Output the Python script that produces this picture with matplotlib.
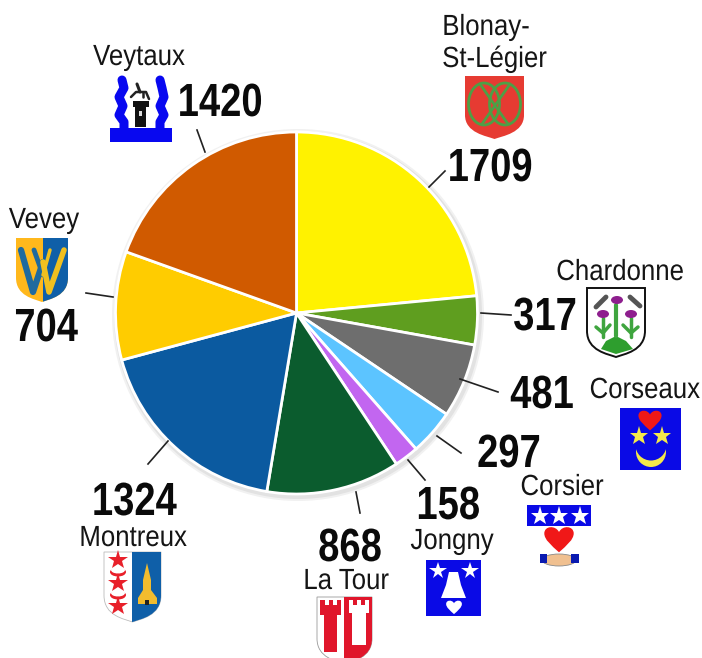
import matplotlib
matplotlib.use("Agg")
import matplotlib.pyplot as plt
from matplotlib.patches import Circle, PathPatch, Polygon, Rectangle, Ellipse
from matplotlib.path import Path
from matplotlib.patheffects import AbstractPathEffect
from matplotlib.transforms import Affine2D

communes = ["Blonay-St-Légier", "Chardonne", "Corseaux", "Corsier", "Jongny",
            "La Tour", "Montreux", "Vevey", "Veytaux"]
values = [1709, 317, 481, 297, 158, 868, 1324, 704, 1420]
colors = ["#FFF200", "#5F9E1F", "#6E6E6E", "#5CC4FF", "#C266F0",
          "#0B5C2E", "#0B5AA0", "#FFCC00", "#D05A00"]
name_labels = ["Veytaux", "Blonay-", "St-Légier", "Vevey", "Chardonne",
               "Corseaux", "Corsier", "Jongny", "Montreux", "La Tour"]

W, H = 702, 658
fig = plt.figure(figsize=(W / 100, H / 100), dpi=100, facecolor="white")
ax = fig.add_axes([0, 0, 1, 1])
ax.set_xlim(0, W)
ax.set_ylim(0, H)
ax.set_aspect("equal")
ax.axis("off")


def Y(y):
    return H - y


class Narrow(AbstractPathEffect):
    """Squeeze a text horizontally about its left edge, centre or right edge."""

    def __init__(self, sx, anchor="center"):
        super().__init__()
        self.sx, self.anchor = sx, anchor

    def draw_path(self, renderer, gc, tpath, affine, rgbFace=None):
        box = tpath.get_extents(affine)
        cx = {"left": box.x0, "right": box.x1}.get(self.anchor, (box.x0 + box.x1) / 2)
        new = affine + Affine2D().translate(-cx, 0).scale(self.sx, 1).translate(cx, 0)
        renderer.draw_path(gc, tpath, new, rgbFace)


FONT = "Liberation Sans"
BLUE = "#0A0AE6"

# soft shadow behind the pie
for r, c in [(186, "#F1F1F1"), (184, "#E2E2E2")]:
    ax.add_patch(Circle((298, Y(315)), r, fc=c, ec="none", zorder=1))

ax.pie(values, colors=colors, startangle=90, counterclock=False,
       center=(296.5, Y(313)), radius=181, frame=False,
       wedgeprops=dict(edgecolor="white", linewidth=2.0, zorder=2))
ax.set_xlim(0, W)
ax.set_ylim(0, H)
ax.axis("off")

# leader lines
leaders = [((197, 130), (205, 152)), ((86, 293), (113, 297)), ((445, 171), (429, 187)),
           ((481, 313), (511, 315)), ((460, 379), (498, 392)), ((437, 436), (461, 453)),
           ((408, 460), (425, 480)), ((356, 492), (360, 513)), ((168, 441), (148, 464))]
for (x0, y0), (x1, y1) in leaders:
    ax.plot([x0, x1], [Y(y0), Y(y1)], color="#222222", lw=1.2, zorder=3)

# value labels
num_pos = {1420: (220, 104), 1709: (490, 169), 704: (46, 329), 317: (545, 318),
           481: (542, 396), 297: (509, 455), 158: (448, 507), 868: (350, 549), 1324: (134, 503)}
for v in values:
    x, y = num_pos[v]
    ax.text(x, Y(y), str(v), family=FONT, weight="bold", fontsize=33.5,
            ha="center", va="center", color="#0A0A0A", zorder=8,
            path_effects=[Narrow(0.82)])

# commune labels
name_pos = [(139, 57, "center"), (442, 27, "left"), (442, 59, "left"), (44, 220, "center"),
            (620, 272, "center"), (700, 390, "right"), (562, 487, "center"),
            (452, 541, "center"), (133, 538, "center"), (346, 581, "center")]
for s, (x, y, ha) in zip(name_labels, name_pos):
    ax.text(x, Y(y), s, family=FONT, fontsize=21, ha=ha, va="center",
            color="#151515", zorder=8, path_effects=[Narrow(0.885, ha)])


def shield_path(x0, x1, y0, y1):
    m = (x0 + x1) / 2
    s = y0 + (y1 - y0) * 0.62
    verts = [(x0, y0), (x1, y0), (x1, s), (x1, y1 - 6), (m + 8, y1 - 3), (m, y1),
             (m - 8, y1 - 3), (x0, y1 - 6), (x0, s), (x0, y0)]
    codes = [Path.MOVETO, Path.LINETO, Path.LINETO, Path.CURVE4, Path.CURVE4, Path.CURVE4,
             Path.CURVE4, Path.CURVE4, Path.CURVE4, Path.CLOSEPOLY]
    return Path([(a, Y(b)) for a, b in verts], codes)


def shield(x0, x1, y0, y1, fc, ec="none", lw=0):
    ax.add_patch(PathPatch(shield_path(x0, x1, y0, y1), fc=fc, ec=ec, lw=lw, zorder=4))


def half_shield(x0, x1, y0, y1, fc, xa, xb):
    p = PathPatch(shield_path(x0, x1, y0, y1), fc=fc, ec="none", zorder=4)
    ax.add_patch(p)
    p.set_clip_path(Rectangle((xa, 0), xb - xa, H, transform=ax.transData))


def heart(cx, cy, s, fc):
    pts = [(0, .95), (-.55, .45), (-1.05, .05), (-1.05, -.4), (-1.05, -.95), (-.25, -1.0), (0, -.5),
           (.25, -1.0), (1.05, -.95), (1.05, -.4), (1.05, .05), (.55, .45), (0, .95)]
    codes = [Path.MOVETO] + [Path.CURVE4] * 12
    ax.add_patch(PathPatch(Path([(cx + a * s, Y(cy + b * s)) for a, b in pts], codes),
                           fc=fc, ec="none", zorder=7))


def star(x, y, size, c):
    ax.plot([x], [Y(y)], marker="*", ms=size, mfc=c, mec=c, mew=0, zorder=7)


def rect(x0, y0, x1, y1, c, z=4):
    ax.add_patch(Rectangle((x0, Y(y1)), x1 - x0, y1 - y0, fc=c, ec="none", zorder=z))


def poly(pts, c, z=5):
    ax.add_patch(Polygon([(a, Y(b)) for a, b in pts], closed=True, fc=c, ec="none", zorder=z))


def line(pts, c, lw, z=5):
    ax.plot([p[0] for p in pts], [Y(p[1]) for p in pts], color=c, lw=lw, zorder=z,
            solid_capstyle="round", solid_joinstyle="round")


# Veytaux
rect(110, 128, 172, 142, "#0808F0")
line([(122, 80), (124, 88), (119, 97), (123, 106), (119, 115), (124, 122), (124, 129)], "#0808F0", 6.5)
line([(160, 80), (162, 88), (164, 97), (160, 106), (164, 115), (160, 122), (160, 129)], "#0808F0", 6.5)
rect(135, 107, 146, 127, "#111111", 5)
rect(133, 101, 149, 107, "#111111", 5)
line([(131, 97), (136, 92), (146, 92), (149, 99)], "#222222", 1.8)
line([(137, 84), (140, 92)], "#222222", 2.2)
line([(143, 92), (143, 97)], "#222222", 1.8)
rect(139, 111, 142, 116, "#DDDDDD", 6)

# Blonay-St-Légier
shield(465, 524, 76, 139, "#E63B32")
for cx in (484, 505):
    ax.add_patch(Ellipse((cx, Y(104)), 31, 42, fc="none", ec="#4E9F46", lw=2, zorder=5))
line([(480, 84), (508, 124)], "#4E9F46", 2)
line([(510, 84), (482, 124)], "#4E9F46", 2)

# Vevey
shield(16, 68, 238, 302, "#FFB81C")
half_shield(16, 68, 238, 302, "#0F5FA8", 43, 70)
rect(16, 238, 43, 247, "#FFB81C", 4.5)
line([(21, 250), (33, 292), (43, 262)], "#1F6A9E", 4.5)
line([(34, 250), (43, 275)], "#1F6A9E", 3.5)
line([(43, 262), (49, 292), (64, 250)], "#F0C020", 4)
line([(43, 275), (50, 250)], "#F0C020", 2.5)

# Chardonne
shield(587, 645, 288, 357, "white", "#111111", 1.4)
poly([(601, 349), (606, 341), (616, 336), (626, 341), (633, 349), (616, 354)], "#2E9E2E")
line([(616, 336), (616, 305)], "#3FA53F", 3)
line([(603, 337), (603, 318)], "#3FA53F", 2.5)
line([(631, 337), (631, 318)], "#3FA53F", 2.5)
line([(596, 327), (603, 333), (610, 325)], "#3FA53F", 2.5)
line([(623, 325), (631, 333), (638, 327)], "#3FA53F", 2.5)
for x, y in [(617, 300), (603, 314), (631, 314)]:
    ax.add_patch(Ellipse((x, Y(y)), 12, 8, fc="#8E1F8E", ec="none", zorder=6))
line([(596, 307), (606, 297)], "#555555", 3.5)
line([(630, 297), (640, 306)], "#555555", 3.5)

# Corseaux
rect(620, 408, 681, 470, BLUE)
heart(650, 420, 11, "#F01818")
star(639, 436, 14, "#F4E94A")
star(662, 436, 14, "#F4E94A")
ax.add_patch(Circle((651, Y(452)), 15, fc="#F4E94A", ec="none", zorder=5))
ax.add_patch(Circle((651, Y(445)), 15.5, fc=BLUE, ec="none", zorder=5.5))

# Corsier
rect(527, 505, 591, 526, BLUE)
for x in (540, 559, 580):
    star(x, 516, 14, "white")
heart(559, 539, 14, "#F01818")
ax.add_patch(Ellipse((559, Y(560)), 34, 12, fc="#F0C090", ec="#888888", lw=0.6, zorder=5))
rect(540, 554, 547, 563, "#0A1AB0", 5)
rect(571, 554, 579, 563, "#0A1AB0", 5)

# Jongny
rect(426, 560, 481, 616, BLUE)
star(438, 571, 13, "white")
star(470, 571, 13, "white")
poly([(449, 572), (458, 572), (461, 585), (466, 598), (441, 598), (446, 585)], "white")
heart(454, 607, 7.5, "white")

# Montreux
shield(104, 161, 552, 622, "white", "#BBBBBB", 0.6)
half_shield(104, 161, 552, 622, "#0F5FA8", 132, 165)
for y in (560, 583, 606):
    star(118, y, 15, "#E8202A")
for y in (572, 595):
    ax.add_patch(Ellipse((118, Y(y)), 16, 9, fc="#E8202A", ec="none", zorder=5))
    ax.add_patch(Ellipse((118, Y(y - 2)), 14, 7, fc="white", ec="none", zorder=5.5))
poly([(147, 563), (151, 580), (151, 590), (157, 598), (157, 604), (138, 604),
      (138, 598), (143, 590), (143, 580)], "#F2BC2E")
rect(145, 600, 149, 605, "#222222", 5.5)

# La Tour
shield(317, 372, 597, 664, "white", "#999999", 0.6)
half_shield(317, 372, 597, 664, "#E0162B", 344, 376)
poly([(320, 600), (325, 600), (325, 605), (329, 605), (329, 600), (333, 600), (333, 605),
      (337, 605), (337, 600), (341, 600), (341, 615), (337, 615), (337, 652),
      (324, 652), (324, 615), (320, 615)], "#E0162B")
poly([(349, 600), (353, 600), (353, 605), (357, 605), (357, 600), (361, 600), (361, 605),
      (365, 605), (365, 600), (369, 600), (369, 613), (366, 613), (366, 645),
      (352, 645), (352, 613), (349, 613)], "white")

fig.savefig("out.png", dpi=100, facecolor="white")
